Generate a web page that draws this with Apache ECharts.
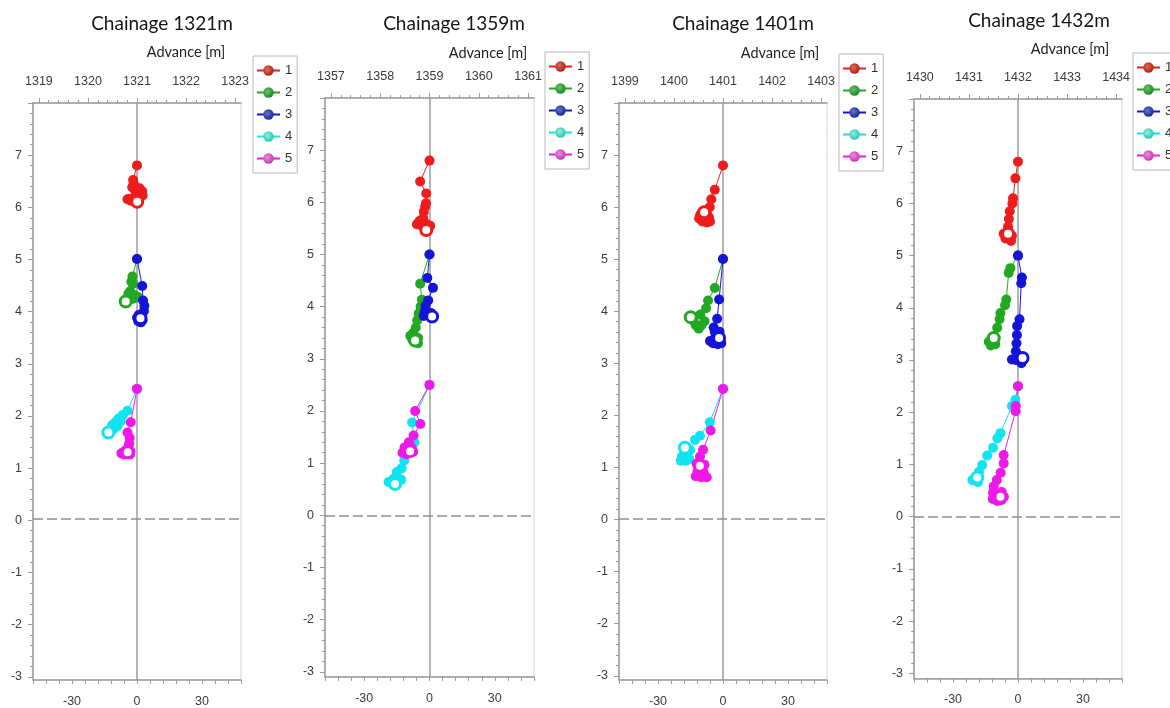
<!DOCTYPE html>
<html>
<head>
<meta charset="utf-8">
<script src="https://cdn.jsdelivr.net/npm/echarts@6/dist/echarts.min.js"></script>
<style>
  html, body { margin: 0; padding: 0; background: #fff; }
  #chart { width: 1170px; height: 708px; }
</style>
</head>
<body>
<div id="chart"></div>
<script>
// Monitored sections (chainage of the tunnel face, m)
const chainages = [1321, 1359, 1401, 1432];
// Prism names shown in each legend
const prismNames = ['1', '2', '3', '4', '5'];
// Labelled ticks of the lateral displacement axis (mm) and height axis (m)
const offsetTickLabels = [-30, 0, 30];
const heightTickLabels = [-3, -2, -1, 0, 1, 2, 3, 4, 5, 6, 7];

// Prism traces: [lateral displacement, height]; first reading at the nominal position
const prism1_1321 = [[0,6.8],[-1.8,6.52],[-1.5,6.45],[-2.2,6.38],[-1.0,6.32],[1.2,6.36],[2.4,6.3],[2.6,6.22],[1.5,6.2],[-1.0,6.18],[-3.5,6.16],[-4.4,6.15],[-2.8,6.12],[-1.0,6.1],[0.1,6.1]];
const prism2_1321 = [[0,5],[-2.1,4.66],[-2.6,4.56],[-1.8,4.52],[-3.2,4.38],[-4.0,4.33],[-2.2,4.32],[-1.0,4.3],[0.3,4.27],[-1.5,4.24],[-3.0,4.22],[-4.5,4.2],[-5.2,4.18]];
const prism3_1321 = [[0,5],[2.4,4.48],[2.8,4.2],[3.4,4.1],[3.2,4.0],[2.4,3.95],[0.8,3.92],[0.0,3.87],[0.6,3.8],[1.8,3.78],[2.6,3.82],[1.6,3.86]];
const prism4_1321 = [[0,2.5],[-4.4,2.08],[-6.5,2.0],[-8.5,1.93],[-7.5,1.88],[-10.0,1.86],[-11.5,1.8],[-9.0,1.78],[-11.0,1.72],[-12.5,1.7],[-13.2,1.66]];
const prism5_1321 = [[0,2.5],[-2.9,1.86],[-4.4,1.66],[-3.4,1.56],[-3.6,1.45],[-4.0,1.38],[-5.8,1.3],[-7.2,1.26],[-6.0,1.24],[-3.2,1.24],[-3.0,1.3],[-4.3,1.28]];

const prism1_1359 = [[0,6.8],[-4.3,6.4],[-1.5,6.17],[-1.6,5.98],[-2.0,5.92],[-2.6,5.82],[-2.9,5.7],[-4.6,5.64],[-5.8,5.58],[-3.5,5.55],[-1.8,5.6],[0.3,5.55],[-0.5,5.5],[-1.5,5.47]];
const prism2_1359 = [[0,5],[-4.3,4.44],[-3.5,4.13],[-4.1,4.0],[-5.0,3.87],[-5.6,3.74],[-6.3,3.6],[-7.4,3.5],[-8.8,3.44],[-8.0,3.38],[-5.2,3.4],[-5.3,3.3],[-6.6,3.35]];
const prism3_1359 = [[0,5],[-1.0,4.55],[1.6,4.36],[-0.6,4.12],[-1.8,4.02],[-2.2,3.9],[-2.6,3.82],[-0.8,3.85],[0.6,3.88],[1.2,3.81]];
const prism4_1359 = [[0,2.5],[-8.0,1.78],[-6.9,1.4],[-9.0,1.2],[-11.6,1.05],[-12.8,0.9],[-15.0,0.83],[-16.5,0.7],[-18.8,0.64],[-17.0,0.62],[-13.0,0.68],[-15.8,0.6]];
const prism5_1359 = [[0,2.5],[-6.6,2.0],[-4.2,1.75],[-7.3,1.53],[-9.5,1.4],[-11.5,1.3],[-12.4,1.2],[-10.5,1.17],[-7.5,1.22],[-8.0,1.28],[-8.9,1.23]];

const prism1_1401 = [[0,6.8],[-3.8,6.33],[-5.4,6.15],[-6.1,6.0],[-7.5,5.9],[-6.5,5.8],[-6.0,5.72],[-7.5,5.7],[-9.5,5.72],[-11.0,5.78],[-10.5,5.85],[-8.7,5.9]];
const prism2_1401 = [[0,5],[-3.8,4.44],[-6.9,4.2],[-7.8,4.05],[-10.5,3.93],[-8.5,3.8],[-10.0,3.72],[-11.2,3.66],[-12.5,3.72],[-13.5,3.8],[-14.9,3.88]];
const prism3_1401 = [[0,5],[-1.8,4.22],[-2.7,3.85],[-4.3,3.68],[-3.8,3.6],[-1.6,3.6],[-3.5,3.5],[-6.0,3.42],[-4.6,3.38],[-2.4,3.36],[-0.8,3.38],[-1.8,3.48]];
const prism4_1401 = [[0,2.5],[-6.1,1.86],[-10.6,1.6],[-12.9,1.52],[-15.2,1.32],[-16.5,1.2],[-19.0,1.2],[-19.5,1.12],[-17.0,1.12],[-15.5,1.15],[-16.8,1.27],[-17.6,1.37]];
const prism5_1401 = [[0,2.5],[-5.7,1.7],[-9.2,1.33],[-10.6,1.2],[-12.2,1.06],[-11.8,0.9],[-12.6,0.82],[-10.0,0.8],[-7.5,0.8],[-9.0,0.9],[-8.5,1.04],[-10.7,1.02]];

const prism1_1432 = [[0,6.8],[-1.2,6.48],[-2.3,6.1],[-2.6,6.0],[-3.8,5.85],[-4.2,5.7],[-4.6,5.55],[-6.6,5.42],[-5.8,5.33],[-3.2,5.28],[-2.8,5.38],[-4.6,5.42]];
const prism2_1432 = [[0,5],[-3.5,4.76],[-4.3,4.67],[-5.4,4.16],[-6.0,4.05],[-8.1,3.9],[-8.5,3.78],[-9.6,3.62],[-11.5,3.45],[-13.5,3.35],[-12.5,3.28],[-10.5,3.3],[-11.2,3.42]];
const prism3_1432 = [[0,5],[1.8,4.58],[1.5,4.47],[0.7,3.78],[-0.4,3.65],[-0.5,3.48],[-0.7,3.32],[-1.0,3.17],[-2.8,3.01],[-1.0,3.0],[1.6,2.94],[2.4,3.0],[2.1,3.04]];
const prism4_1432 = [[0,2.5],[-1.2,2.24],[-2.8,2.12],[-8.1,1.6],[-9.5,1.5],[-11.5,1.32],[-14.2,1.17],[-16.5,0.99],[-18.0,0.86],[-21.0,0.7],[-18.5,0.66],[-18.8,0.75]];
const prism5_1432 = [[0,2.5],[-1.0,2.12],[-1.1,2.02],[-6.6,1.18],[-6.6,1.02],[-8.0,0.84],[-9.8,0.7],[-11.2,0.58],[-11.5,0.46],[-11.6,0.34],[-9.5,0.3],[-7.6,0.32],[-6.5,0.38],[-7.5,0.47],[-8.1,0.38]];

const traces = [
  [prism1_1321, prism2_1321, prism3_1321, prism4_1321, prism5_1321],
  [prism1_1359, prism2_1359, prism3_1359, prism4_1359, prism5_1359],
  [prism1_1401, prism2_1401, prism3_1401, prism4_1401, prism5_1401],
  [prism1_1432, prism2_1432, prism3_1432, prism4_1432, prism5_1432]
];

// ---- styling / layout ----
const lineColors = ['#ee1c1c', '#22a822', '#1515d8', '#10e4f0', '#f018e8'];
const sphereStops = [
  ['#e6654f', '#a32a18'],
  ['#62c862', '#23862a'],
  ['#6272d6', '#1f2a8e'],
  ['#8af2de', '#2ec6ae'],
  ['#f28ae2', '#be3cae']
];
const AXIS_FONT = '"Liberation Sans Narrow", "Liberation Sans", Arial, sans-serif';
const AXIS_GREY = '#9a9a9a';
const LABEL_GREY = '#3c3c3c';
const X_MIN = -48, X_MAX = 48;      // lateral displacement range
const Y_MIN = -3.1, Y_MAX = 8;      // height range
const ADV_HALF = 2.12;              // advance axis half-span (m)

const panels = [
  { left: 33,  top: 103, width: 208, height: 579,   title: [162, 24],  adv: [186, 52],  legend: [253, 56] },
  { left: 325, top: 98,  width: 209, height: 579,   title: [454, 24],  adv: [488, 53],  legend: [545, 52] },
  { left: 619, top: 103, width: 208, height: 578,   title: [743, 24],  adv: [780, 53],  legend: [839, 54] },
  { left: 914, top: 99,  width: 208, height: 579.5, title: [1039, 21], adv: [1070, 49], legend: [1133, 53] }
];

const grid = [], xAxis = [], yAxis = [], series = [], legend = [], graphic = [];
const near = (v, list) => list.some(t => Math.abs(v - t) < 1e-6);

panels.forEach((pn, p) => {
  const c = chainages[p];

  // main plot area
  const gMain = grid.length;
  grid.push({ left: pn.left, top: pn.top, width: pn.width, height: pn.height,
              show: true, borderColor: '#d6d6d6', borderWidth: 1, backgroundColor: '#fff' });
  // height axis labels / ticks (integer range)
  const gY = grid.length;
  grid.push({ left: pn.left, top: pn.top, width: pn.width,
              height: pn.height * (Y_MAX - (-3)) / (Y_MAX - Y_MIN) });
  // advance axis along the top
  const gTop = grid.length;
  const span = 2 * ADV_HALF;
  grid.push({ left: pn.left + pn.width * (ADV_HALF - 2) / span, top: pn.top,
              width: pn.width * 4 / span, height: pn.height });

  const axisLine = { show: true, onZero: false, lineStyle: { color: AXIS_GREY, width: 1.5 } };
  const labelBase = { color: LABEL_GREY, fontSize: 12.5, fontFamily: AXIS_FONT };

  const xBottom = xAxis.length;
  xAxis.push({ type: 'value', gridIndex: gMain, position: 'bottom', min: X_MIN, max: X_MAX, interval: 6,
    axisLine, axisTick: { show: true, length: 4, lineStyle: { color: AXIS_GREY } },
    axisLabel: Object.assign({ margin: 15, formatter: v => near(v, offsetTickLabels) ? String(Math.round(v)) : '' }, labelBase),
    splitLine: { show: false } });
  xAxis.push({ type: 'value', gridIndex: gMain, position: 'top', min: 0, max: 1,
    axisLine, axisTick: { show: false }, axisLabel: { show: false }, splitLine: { show: false } });
  xAxis.push({ type: 'value', gridIndex: gY, show: false, min: 0, max: 1 });
  xAxis.push({ type: 'value', gridIndex: gTop, position: 'top', min: c - 2, max: c + 2, interval: 1,
    axisLine: { show: false, onZero: false },
    axisTick: { show: true, length: 5, lineStyle: { color: AXIS_GREY } },
    minorTick: { show: true, splitNumber: 5, length: 3, lineStyle: { color: AXIS_GREY } },
    axisLabel: Object.assign({ margin: 15, formatter: v => String(Math.round(v)) }, labelBase),
    splitLine: { show: false }, minorSplitLine: { show: false } });

  const yMain = yAxis.length;
  yAxis.push({ type: 'value', gridIndex: gMain, min: Y_MIN, max: Y_MAX,
    axisLine, axisTick: { show: false }, axisLabel: { show: false }, splitLine: { show: false } });
  yAxis.push({ type: 'value', gridIndex: gY, min: -3, max: Y_MAX, interval: 1,
    axisLine: { show: false, onZero: false },
    axisTick: { show: true, length: 5, lineStyle: { color: AXIS_GREY } },
    minorTick: { show: true, splitNumber: 5, length: 3, lineStyle: { color: AXIS_GREY } },
    axisLabel: Object.assign({ margin: 11, formatter: v => near(v, heightTickLabels) ? String(Math.round(v)) : '' }, labelBase),
    splitLine: { show: false }, minorSplitLine: { show: false } });
  yAxis.push({ type: 'value', gridIndex: gTop, show: false, min: 0, max: 1 });

  traces[p].forEach((pts, s) => {
    const col = lineColors[s];
    const data = pts.map((pt, i) => i === pts.length - 1
      ? { value: pt, symbolSize: 11, itemStyle: { color: '#fff', borderColor: col, borderWidth: 3 } }
      : pt);
    const ser = {
      name: prismNames[s], type: 'line', xAxisIndex: xBottom, yAxisIndex: yMain,
      data, symbol: 'circle', symbolSize: 10, showSymbol: true, color: col,
      lineStyle: { width: 1, color: col }, itemStyle: { color: col },
      emphasis: { disabled: true }, z: 3, animation: false
    };
    if (s === 0) {
      ser.markLine = {
        silent: true, symbol: ['none', 'none'], z: 1, animation: false,
        label: { show: false },
        data: [
          { xAxis: 0, lineStyle: { color: '#9c9c9c', width: 1.5, type: 'solid' } },
          { yAxis: 0, lineStyle: { color: '#8e8e8e', width: 1.5, type: [10, 4] } }
        ]
      };
    }
    series.push(ser);
  });

  legend.push({
    left: pn.legend[0], top: pn.legend[1], orient: 'vertical',
    data: prismNames.map((n, i) => ({
      name: n,
      itemStyle: { color: { type: 'radial', x: 0.4, y: 0.4, r: 0.6,
        colorStops: [{ offset: 0, color: sphereStops[i][0] }, { offset: 1, color: sphereStops[i][1] }] } }
    })),
    itemWidth: 23, itemHeight: 13, itemGap: 9, padding: [8, 5, 8, 3],
    borderColor: '#b8b8b8', borderWidth: 1, backgroundColor: '#fff',
    textStyle: { fontSize: 13, color: '#333', fontFamily: AXIS_FONT, lineHeight: 13 },
    selectedMode: false
  });

  graphic.push({ type: 'text', x: pn.title[0], y: pn.title[1], silent: true,
    style: { text: 'Chainage ' + c + 'm', fontSize: 19, fontFamily: 'Lato, "Open Sans", sans-serif',
             fill: '#161616', align: 'center', verticalAlign: 'middle' } });
  graphic.push({ type: 'text', x: pn.adv[0], y: pn.adv[1], silent: true,
    style: { text: 'Advance [m]', fontSize: 14.5, fontFamily: 'Lato, "Open Sans", sans-serif',
             fill: '#222', align: 'center', verticalAlign: 'middle' } });
});

const chart = echarts.init(document.getElementById('chart'), null, { renderer: 'canvas' });
chart.setOption({
  animation: false,
  backgroundColor: '#fff',
  grid, xAxis, yAxis, series, legend, graphic
});
</script>
</body>
</html>
